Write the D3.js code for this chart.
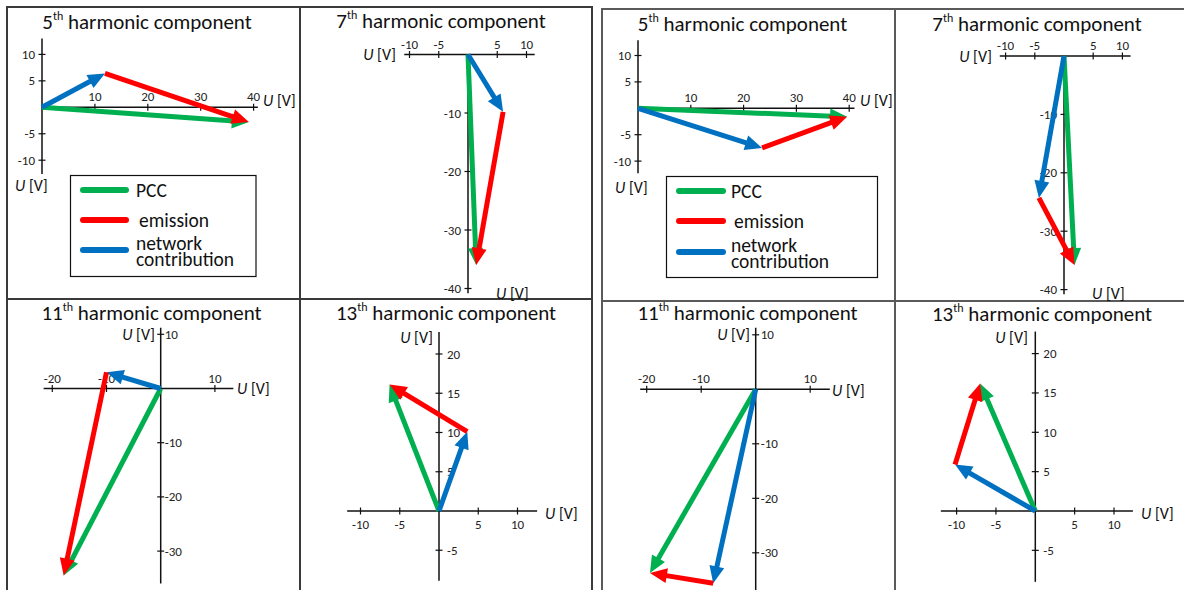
<!DOCTYPE html>
<html><head><meta charset="utf-8">
<script src="https://cdn.jsdelivr.net/npm/d3@7"></script>
<style>body{margin:0;background:#fff} svg{display:block} text{font-family:Carlito,Lato,sans-serif;font-weight:400}</style>
</head><body><svg id="c" width="1184" height="590"></svg>
<script>
// ---------- data ----------
const harmonics = ["5", "7", "11", "13"];
const seriesNames = ["PCC", "emission", "network", "contribution"];
// left group (case A): phasors in V (real, imaginary)
const pccA      = [[39.1, -2.8], [1.4, -36.0], [-17.9, -34.5], [-6.3, 16.1]];
const networkA  = [[11.9, 6.4],  [6.0, -9.8],  [-10.0, 3.0],   [3.6, 10.1]];
const emissionA = [[27.2, -9.2], [-4.6, -26.2], [-7.9, -37.5], [-9.9, 6.0]];
// right group (case B)
const pccB      = [[39.6, -1.6], [1.8, -35.8], [-19.4, -33.7], [-7.0, 16.2]];
const networkB  = [[23.5, -7.5], [-4.3, -24.3], [-7.8, -35.6], [-10.2, 5.9]];
const emissionB = [[16.1, 5.9],  [6.1, -11.5], [-11.6, 1.9],   [3.2, 10.3]];
// axis ticks per harmonic
const xTicks = [[10, 20, 30, 40], [-10, -5, 5, 10], [-20, -10, 10], [-10, -5, 5, 10]];
const yTicks = [[10, 5, -5, -10], [-10, -20, -30, -40], [10, -10, -20, -30], [20, 15, 10, 5, -5]];

// ---------- layout (positions & styles) ----------
const colors = {pcc: "#00B050", emission: "#FF0000", network: "#0070C0"};
const groups = [
  {x0: 7, y0: 7, xm: 300, ym: 299, x1: 592, stroke: "#3a3a3a"},
  {x0: 602, y0: 9, xm: 895, ym: 301, x1: 1192, stroke: "#5a5a5a"}
];
const panels = [
  {grp: 0, h: 0, ox: 42, oy: 107.3, k: 5.29, xExt: [0, 40.8], yExt: [-12.6, 13], xt: "above", yt: "left", ytOff: 7,
   xl: [263, 106, "start"], yl: [15, 191, "start"], title: [147, 29],
   legend: {x: 70.5, y: 175.5, w: 185.5, h: 101, lx0: 83, lx1: 126, ly: [190, 220, 250], tx: 136}},
  {grp: 0, h: 1, ox: 468, oy: 54.5, k: 5.85, xExt: [-10.9, 11.4], yExt: [-40.8, 0], xt: "above", yt: "left", ytOff: 7,
   xl: [396, 60, "end"], yl: [496, 299, "start"], title: [441, 28]},
  {grp: 1, h: 0, ox: 638, oy: 108.3, k: 5.28, xExt: [0, 41], yExt: [-12.3, 12.9], xt: "above", yt: "left", ytOff: 7,
   xl: [860, 106, "start"], yl: [615, 193, "start"], title: [742.5, 31],
   legend: {x: 666.5, y: 176.5, w: 211, h: 101, lx0: 679, lx1: 723, ly: [191, 221, 252], tx: 731}},
  {grp: 1, h: 1, ox: 1064, oy: 56, k: 5.84, xExt: [-11, 11.4], yExt: [-40.8, 0], xt: "above", yt: "left", ytOff: 7,
   xl: [992, 62, "end"], yl: [1092, 299, "start"], title: [1037, 31]},
  {grp: 0, h: 2, ox: 160.7, oy: 388.5, k: 5.42, xExt: [-21.6, 13.4], yExt: [-36, 11.2], xt: "above", yt: "right", ytOff: 4,
   xl: [237, 394, "start"], yl: [155, 340, "end"], title: [151.5, 320]},
  {grp: 0, h: 3, ox: 439, oy: 511, k: 7.85, xExt: [-11.7, 12.5], yExt: [-8.9, 22.8], xt: "below", yt: "right", ytOff: 8,
   xl: [545, 519, "start"], yl: [433, 343, "end"], title: [446, 320]},
  {grp: 1, h: 2, ox: 755.7, oy: 389.3, k: 5.45, xExt: [-21.2, 13.6], yExt: [-37, 11.3], xt: "above", yt: "right", ytOff: 5,
   xl: [832, 396, "start"], yl: [750, 340, "end"], title: [747.5, 320]},
  {grp: 1, h: 3, ox: 1035.3, oy: 511, k: 7.87, xExt: [-12, 12.4], yExt: [-9, 22.8], xt: "below", yt: "right", ytOff: 8,
   xl: [1141, 519, "start"], yl: [1028, 343, "end"], title: [1042, 321]}
];
const dataSets = [
  {pcc: pccA, network: networkA, emission: emissionA},
  {pcc: pccB, network: networkB, emission: emissionB}
];

const svg = d3.select("#c");
svg.append("rect").attr("width", 1184).attr("height", 590).attr("fill", "#fff");

// frames
groups.forEach(g => {
  const fg = svg.append("g").attr("stroke", g.stroke).attr("stroke-width", 2).attr("fill", "none");
  fg.append("rect").attr("x", g.x0).attr("y", g.y0).attr("width", g.x1 - g.x0).attr("height", 700);
  fg.append("line").attr("x1", g.xm).attr("x2", g.xm).attr("y1", g.y0).attr("y2", 700);
  fg.append("line").attr("x1", g.x0).attr("x2", g.x1).attr("y1", g.ym).attr("y2", g.ym);
});

function uLabel(g, pos, size) {
  const t = g.append("text").attr("x", pos[0]).attr("y", pos[1]).attr("text-anchor", pos[2])
    .attr("font-size", size).attr("fill", "#111");
  t.append("tspan").attr("font-style", "italic").text("U");
  t.append("tspan").text(" [V]");
}

function arrow(g, x, y, from, to, color) {
  const x0 = x(from[0]), y0 = y(from[1]), x1 = x(to[0]), y1 = y(to[1]);
  const dx = x1 - x0, dy = y1 - y0, len = Math.hypot(dx, dy), ux = dx / len, uy = dy / len;
  const L = 17, Wd = 15;
  const bx = x1 - ux * L, by = y1 - uy * L;
  g.append("line").attr("x1", x0).attr("y1", y0).attr("x2", bx + ux * 2).attr("y2", by + uy * 2)
    .attr("stroke", color).attr("stroke-width", 5);
  g.append("path").attr("d", `M${x1},${y1}L${bx - uy * Wd / 2},${by + ux * Wd / 2}L${bx + uy * Wd / 2},${by - ux * Wd / 2}Z`)
    .attr("fill", color);
}

panels.forEach(p => {
  const g = svg.append("g");
  const x = d3.scaleLinear().domain(p.xExt).range([p.ox + p.k * p.xExt[0], p.ox + p.k * p.xExt[1]]);
  const y = d3.scaleLinear().domain(p.yExt).range([p.oy - p.k * p.yExt[0], p.oy - p.k * p.yExt[1]]);
  const hi = p.h;

  // title
  const t = g.append("text").attr("x", p.title[0]).attr("y", p.title[1]).attr("text-anchor", "middle")
    .attr("font-size", 21).attr("fill", "#111");
  t.append("tspan").text(harmonics[hi]);
  t.append("tspan").attr("font-size", 12).attr("dy", -9).text("th");
  t.append("tspan").attr("dy", 9).text(" harmonic component");

  // axes
  g.append("line").attr("x1", x(p.xExt[0])).attr("x2", x(p.xExt[1])).attr("y1", y(0)).attr("y2", y(0))
    .attr("stroke", "#111").attr("stroke-width", 1.5);
  g.append("line").attr("x1", x(0)).attr("x2", x(0)).attr("y1", y(p.yExt[0])).attr("y2", y(p.yExt[1]))
    .attr("stroke", "#111").attr("stroke-width", 1.5);

  xTicks[hi].forEach(v => {
    g.append("line").attr("x1", x(v)).attr("x2", x(v)).attr("y1", y(0) - 3.5).attr("y2", y(0) + 3.5)
      .attr("stroke", "#111").attr("stroke-width", 1.2);
    g.append("text").attr("x", x(v)).attr("y", p.xt === "above" ? y(0) - 6 : y(0) + 18)
      .attr("text-anchor", "middle").attr("font-size", 13).attr("fill", "#222").text(v);
  });
  yTicks[hi].forEach(v => {
    g.append("line").attr("x1", x(0) - 3.5).attr("x2", x(0) + 3.5).attr("y1", y(v)).attr("y2", y(v))
      .attr("stroke", "#111").attr("stroke-width", 1.2);
    g.append("text").attr("x", p.yt === "left" ? x(0) - p.ytOff : x(0) + p.ytOff).attr("y", y(v) + 4.5)
      .attr("text-anchor", p.yt === "left" ? "end" : "start").attr("font-size", 13).attr("fill", "#222").text(v);
  });

  uLabel(g, p.xl, 16);
  uLabel(g, p.yl, 16);

  // vectors
  const ds = dataSets[p.grp];
  const nw = ds.network[hi], em = ds.emission[hi];
  arrow(g, x, y, [0, 0], ds.pcc[hi], colors.pcc);
  arrow(g, x, y, [0, 0], nw, colors.network);
  arrow(g, x, y, nw, [nw[0] + em[0], nw[1] + em[1]], colors.emission);

  // legend
  if (p.legend) {
    const L = p.legend;
    const lg = svg.append("g");
    lg.append("rect").attr("x", L.x).attr("y", L.y).attr("width", L.w).attr("height", L.h)
      .attr("fill", "#fff").attr("stroke", "#111").attr("stroke-width", 1.2);
    const cols = [colors.pcc, colors.emission, colors.network];
    cols.forEach((c, i) => {
      lg.append("line").attr("x1", L.lx0).attr("x2", L.lx1).attr("y1", L.ly[i]).attr("y2", L.ly[i])
        .attr("stroke", c).attr("stroke-width", 6).attr("stroke-linecap", "round");
    });
    const fs = 19.5;
    lg.append("text").attr("x", L.tx).attr("y", L.ly[0] + 7).attr("font-size", fs).attr("fill", "#111").text(seriesNames[0]);
    lg.append("text").attr("x", L.tx + 3).attr("y", L.ly[1] + 7).attr("font-size", fs).attr("fill", "#111").text(seriesNames[1]);
    lg.append("text").attr("x", L.tx).attr("y", L.ly[2] + 0).attr("font-size", fs).attr("fill", "#111").text(seriesNames[2]);
    lg.append("text").attr("x", L.tx).attr("y", L.ly[2] + 16).attr("font-size", fs).attr("fill", "#111").text(seriesNames[3]);
  }
});
</script></body></html>
